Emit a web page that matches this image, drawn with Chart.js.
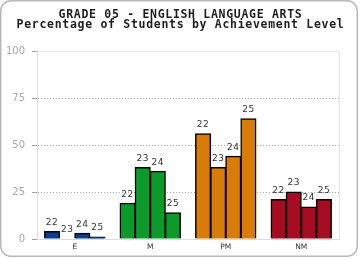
<!DOCTYPE html>
<html>
<head>
<meta charset="utf-8">
<script src="https://cdn.jsdelivr.net/npm/chart.js@4/dist/chart.umd.min.js"></script>
<style>
  html, body { margin: 0; padding: 0; background: #fff; }
  canvas { display: block; }
</style>
</head>
<body>
<canvas id="chart" width="360" height="260"></canvas>
<script>
const titleLines = ["GRADE 05 - ENGLISH LANGUAGE ARTS", "Percentage of Students by Achievement Level"];
const levels = ["E", "M", "PM", "NM"];
const years = ["22", "23", "24", "25"];
const levelColors = ["#0b3f8e", "#0c9a2a", "#d97c07", "#a50b21"];

const y22 = [4, 19, 56, 21];
const y23 = [0, 38, 38, 25];
const y24 = [3, 36, 44, 17];
const y25 = [1, 14, 64, 21];
const yTicks = [0, 25, 50, 75, 100];

const frame = {
  id: "frame",
  beforeDraw(chart) {
    const ctx = chart.ctx;
    ctx.save();
    ctx.strokeStyle = "#b8b8b8";
    ctx.lineWidth = 1.5;
    ctx.beginPath();
    ctx.roundRect(0.75, 0.75, 356.5, 255.5, 10);
    ctx.stroke();
    // light box edge on the right of the plot
    const a = chart.chartArea;
    ctx.strokeStyle = "#e6e6e6";
    ctx.lineWidth = 1;
    ctx.beginPath();
    ctx.moveTo(Math.round(a.right) + 0.5, a.top);
    ctx.lineTo(Math.round(a.right) + 0.5, a.bottom);
    ctx.stroke();
    ctx.restore();
  },
  afterDraw(chart) {
    const ctx = chart.ctx;
    ctx.save();
    ctx.font = 'bold 11.5px "DejaVu Sans Mono"';
    ctx.letterSpacing = "0.7px";
    ctx.fillStyle = "#1e1e1e";
    ctx.textAlign = "center";
    ctx.textBaseline = "middle";
    ctx.fillText(titleLines[0], 180.5, 15);
    ctx.fillText(titleLines[1], 180.5, 25.5);
    ctx.restore();
  }
};

const barLabels = {
  id: "barLabels",
  afterDatasetsDraw(chart) {
    const ctx = chart.ctx;
    ctx.save();
    ctx.font = '9px "DejaVu Sans"';
    ctx.letterSpacing = "0.5px";
    ctx.fillStyle = "#333";
    ctx.textAlign = "center";
    ctx.textBaseline = "bottom";
    chart.data.datasets.forEach((ds, i) => {
      chart.getDatasetMeta(i).data.forEach((bar) => {
        ctx.fillText(ds.label, bar.x, bar.y - 4.5);
      });
    });
    ctx.restore();
  }
};

new Chart(document.getElementById("chart"), {
  type: "bar",
  data: {
    labels: levels,
    datasets: [y22, y23, y24, y25].map((vals, i) => ({
      label: years[i],
      data: vals,
      backgroundColor: levelColors,
      borderColor: "#000",
      borderWidth: 1.5,
      borderSkipped: "bottom",
      inflateAmount: 0.5,
      categoryPercentage: 0.8,
      barPercentage: 1.0,
    })),
  },
  options: {
    responsive: false,
    animation: false,
    devicePixelRatio: 1,
    layout: { padding: { top: 51, right: 21, bottom: 0, left: 0 } },
    plugins: {
      legend: { display: false },
      tooltip: { enabled: false },
    },
    scales: {
      x: {
        grid: { display: false, drawTicks: false },
        border: { color: "#dcdcdc", width: 1 },
        ticks: { color: "#333", font: { family: "DejaVu Sans", size: 7.5 }, padding: 4 },
        afterFit(scale) { scale.height = 21; },
      },
      y: {
        min: 0,
        max: 100,
        afterBuildTicks(scale) { scale.ticks = yTicks.map((v) => ({ value: v })); },
        grid: {
          color: (c) => (c.tick && c.tick.value === 100 ? "#e6e6e6" : "#a8a8a8"),
          tickColor: "#a0a0a0",
          tickBorderDash: [],
          tickLength: 5,
        },
        border: {
          color: "#e0e0e0",
          dash: (c) => (c.tick && c.tick.value === 100 ? [] : [1, 2]),
        },
        ticks: { color: "#a8a8a8", font: { family: "DejaVu Sans", size: 10 }, padding: 7 },
        afterFit(scale) { scale.width = 37; },
      },
    },
  },
  plugins: [frame, barLabels],
});
</script>
</body>
</html>
